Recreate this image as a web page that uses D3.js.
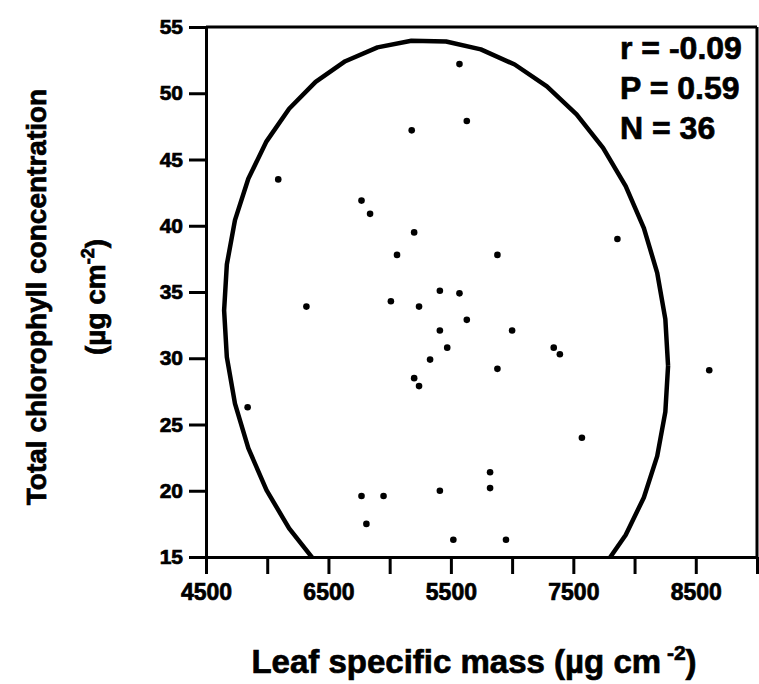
<!DOCTYPE html>
<html>
<head>
<meta charset="utf-8">
<script src="https://cdn.jsdelivr.net/npm/d3@7"></script>
<style>
  body { margin: 0; background: #fff; }
  svg { display: block; }
  text { font-family: "Liberation Sans", Arial, Helvetica, sans-serif; font-weight: bold; fill: #000; }
  .axis path, .axis line { stroke: #000; stroke-width: 3; }
  .axis text { stroke: #000; stroke-width: 0.7; }
</style>
</head>
<body>
<div id="chart"></div>
<script>
/* leaf specific mass (ug cm-2) and total chlorophyll (ug cm-2) */
const leafMass = [6570, 6630, 6180, 5090, 5770, 5840, 6200, 6060, 6880, 7860,
                  5320, 6010, 6240, 6410, 6570, 6630, 7000, 6410, 6470, 6330,
                  6200, 6240, 6880, 7340, 7390, 8610, 4840, 7570, 6820, 6820,
                  5770, 5950, 6410, 5810, 6520, 6950];
const chlorophyll = [52.2, 47.9, 47.2, 43.5, 41.9, 40.9, 39.5, 37.8, 37.8, 39.0,
                     33.9, 34.3, 33.9, 35.1, 34.9, 32.9, 32.1, 32.1, 30.8, 29.9,
                     28.5, 27.9, 29.2, 30.8, 30.3, 29.1, 26.3, 24.0, 21.4, 20.2,
                     19.6, 19.6, 20.0, 17.5, 16.3, 16.3];

/* tick values and the labels as printed on the original (5500/6500 swapped there) */
const xTickValues = [4500, 5000, 5500, 6000, 6500, 7000, 7500, 8000, 8500, 9000];
const xTickLabels = {4500: "4500", 5500: "6500", 6500: "5500", 7500: "7500", 8500: "8500"};
const yTickValues = [15, 20, 25, 30, 35, 40, 45, 50, 55];
const statsLines = ["r = -0.09", "P = 0.59", "N = 36"];

const width = 759, height = 684;
const plot = {left: 206, right: 757, top: 27, bottom: 557};

const svg = d3.select("#chart").append("svg")
    .attr("width", width)
    .attr("height", height);

const x = d3.scaleLinear().domain([4500, 9000]).range([plot.left, plot.right]);
const y = d3.scaleLinear().domain([15, 55]).range([plot.bottom, plot.top]);

const points = leafMass.map((v, i) => ({x: v, y: chlorophyll[i]}));

/* 95% confidence ellipse from the sample covariance */
function confidenceEllipse(data, nSeg) {
    const n = data.length;
    const mx = d3.mean(data, d => d.x), my = d3.mean(data, d => d.y);
    let sxx = 0, syy = 0, sxy = 0;
    data.forEach(d => {
        sxx += (d.x - mx) * (d.x - mx);
        syy += (d.y - my) * (d.y - my);
        sxy += (d.x - mx) * (d.y - my);
    });
    sxx /= n - 1; syy /= n - 1; sxy /= n - 1;
    const k = Math.sqrt(5.991);
    /* cholesky of the covariance matrix */
    const a = Math.sqrt(sxx), b1 = sxy / a, b2 = Math.sqrt(syy - b1 * b1);
    return d3.range(nSeg + 1).map(i => {
        const t = 2 * Math.PI * i / nSeg;
        return {x: mx + k * a * Math.cos(t),
                y: my + k * (b1 * Math.cos(t) + b2 * Math.sin(t))};
    });
}

svg.append("clipPath")
    .attr("id", "plot-clip")
    .append("rect")
    .attr("x", plot.left)
    .attr("y", plot.top)
    .attr("width", plot.right - plot.left)
    .attr("height", plot.bottom - plot.top);

/* frame: top and right */
svg.append("line")
    .attr("x1", plot.left).attr("x2", plot.right)
    .attr("y1", plot.top).attr("y2", plot.top)
    .attr("stroke", "#000").attr("stroke-width", 3);
svg.append("line")
    .attr("x1", plot.right).attr("x2", plot.right)
    .attr("y1", plot.top).attr("y2", plot.bottom)
    .attr("stroke", "#000").attr("stroke-width", 3);

/* axes */
const xAxis = d3.axisBottom(x)
    .tickValues(xTickValues)
    .tickSizeInner(17)
    .tickSizeOuter(0)
    .tickPadding(10)
    .tickFormat(d => xTickLabels[d] || "");
svg.append("g")
    .attr("class", "axis")
    .attr("transform", "translate(0," + plot.bottom + ")")
    .call(xAxis)
    .call(g => g.selectAll("text").style("font-size", "23px"));

const yAxis = d3.axisLeft(y)
    .tickValues(yTickValues)
    .tickSizeInner(17)
    .tickSizeOuter(0)
    .tickPadding(6)
    .tickFormat(d3.format("d"));
svg.append("g")
    .attr("class", "axis")
    .attr("transform", "translate(" + plot.left + ",0)")
    .call(yAxis)
    .call(g => g.selectAll("text").style("font-size", "21px"));

/* ellipse */
const line = d3.line().x(d => x(d.x)).y(d => y(d.y)).curve(d3.curveLinear);
svg.append("path")
    .datum(confidenceEllipse(points, 40))
    .attr("d", line)
    .attr("fill", "none")
    .attr("stroke", "#000")
    .attr("stroke-width", 4.5)
    .attr("stroke-linejoin", "round")
    .attr("clip-path", "url(#plot-clip)");

/* points */
svg.append("g").selectAll("circle")
    .data(points)
    .enter().append("circle")
    .attr("cx", d => x(d.x))
    .attr("cy", d => y(d.y))
    .attr("r", 3.3)
    .attr("fill", "#000");

/* stats */
svg.append("g").selectAll("text")
    .data(statsLines)
    .enter().append("text")
    .attr("x", 620)
    .attr("y", (d, i) => 59 + i * 40)
    .style("font-size", "32px")
    .attr("stroke", "#000").attr("stroke-width", 0.7)
    .text(d => d);

/* axis titles */
const xTitle = svg.append("text")
    .attr("x", 474)
    .attr("y", 673)
    .attr("text-anchor", "middle")
    .style("font-size", "33px")
    .attr("stroke", "#000").attr("stroke-width", 0.7);
xTitle.append("tspan").text("Leaf specific mass (\u00b5g cm");
xTitle.append("tspan").attr("dy", -13).style("font-size", "21px").text(" -2");
xTitle.append("tspan").attr("dy", 13).text(")");

const yTitle = svg.append("g")
    .attr("transform", "translate(0,297) rotate(-90)");
yTitle.append("text")
    .attr("x", 0).attr("y", 46)
    .attr("text-anchor", "middle")
    .style("font-size", "28px")
    .attr("stroke", "#000").attr("stroke-width", 0.7)
    .text("Total chlorophyll concentration");
const yTitle2 = yTitle.append("text")
    .attr("x", 0).attr("y", 105)
    .attr("text-anchor", "middle")
    .style("font-size", "28px")
    .attr("stroke", "#000").attr("stroke-width", 0.7);
yTitle2.append("tspan").text("(\u00b5g cm");
yTitle2.append("tspan").attr("dy", -11).style("font-size", "18px").text("-2");
yTitle2.append("tspan").attr("dy", 11).text(")");
</script>
</body>
</html>
